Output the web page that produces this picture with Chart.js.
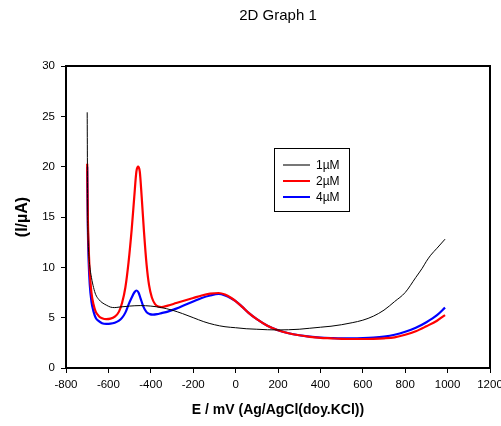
<!DOCTYPE html>
<html>
<head>
<meta charset="utf-8">
<script src="https://cdn.jsdelivr.net/npm/chart.js@4.4.1/dist/chart.umd.min.js"></script>
<style>
html,body{margin:0;padding:0;background:#fff;}
#wrap{width:501px;height:426px;position:relative;}
</style>
</head>
<body>
<div id="wrap"><canvas id="c" width="501" height="426"></canvas></div>
<script>
// ---- data ----
const xTicks = [-800,-600,-400,-200,0,200,400,600,800,1000,1200];
const yTicks = [0,5,10,15,20,25,30];
const seriesNames = ["1\u00b5M","2\u00b5M","4\u00b5M"];

const e1 = [-700,-698,-695,-690,-680,-670,-660,-645,-630,-610,-590,-570,-550,-500,-450,-400,-350,-300,-250,-200,-150,-100,-50,0,50,100,150,200,250,300,350,400,450,500,550,600,650,700,750,800,850,880,900,920,950,988];
const i1 = [25.4,16,12.5,10.6,9.0,8.0,7.3,6.8,6.5,6.25,6.05,6.0,6.05,6.15,6.2,6.15,6.0,5.75,5.4,5.0,4.6,4.3,4.1,4.0,3.9,3.85,3.8,3.78,3.8,3.85,3.95,4.05,4.15,4.3,4.5,4.75,5.15,5.75,6.6,7.5,9.0,9.9,10.6,11.2,11.9,12.8];

const e2 = [-700,-697,-693,-688,-680,-670,-660,-645,-630,-610,-590,-570,-550,-535,-520,-505,-490,-478,-468,-460,-452,-443,-432,-420,-408,-395,-380,-365,-350,-320,-280,-240,-200,-160,-120,-80,-50,-20,0,30,60,100,150,200,250,300,350,400,450,500,550,600,650,700,750,800,850,900,950,988];
const i2 = [20.3,15,12,9.5,7.5,6.3,5.6,5.15,4.95,4.85,4.9,5.1,5.6,6.5,8.0,10.5,13.8,17,19.5,20.0,19.5,17.0,13.5,10.3,8.2,7.0,6.35,6.1,6.05,6.2,6.45,6.7,6.95,7.2,7.38,7.45,7.3,6.95,6.65,6.1,5.5,4.85,4.2,3.75,3.45,3.25,3.1,3.0,2.95,2.9,2.88,2.88,2.9,2.95,3.05,3.3,3.65,4.15,4.7,5.26];

const e4 = [-700,-697,-693,-688,-680,-670,-660,-645,-630,-610,-590,-570,-550,-535,-520,-505,-490,-478,-467,-458,-448,-435,-420,-405,-390,-370,-350,-320,-280,-240,-200,-160,-120,-80,-50,-20,0,30,60,100,150,200,250,300,350,400,450,500,550,600,650,700,750,800,850,900,950,988];
const i4 = [20.0,14,10.5,8.3,6.6,5.6,5.0,4.65,4.45,4.38,4.4,4.5,4.7,5.0,5.5,6.3,7.0,7.5,7.7,7.5,6.9,6.1,5.55,5.35,5.3,5.35,5.45,5.6,5.9,6.25,6.6,6.95,7.2,7.35,7.2,6.9,6.65,6.1,5.5,4.85,4.2,3.75,3.45,3.25,3.12,3.03,2.98,2.95,2.95,2.97,3.02,3.12,3.3,3.6,4.0,4.55,5.25,6.0];

const pts = (xs, ys) => xs.map((x, k) => ({x: x, y: ys[k]}));

const FONT = "'Liberation Sans', Arial, sans-serif";

const framePlugin = {
  id: 'frame',
  afterDatasetsDraw(chart) {
    const {ctx, chartArea: a} = chart;
    ctx.save();
    ctx.strokeStyle = '#000';
    ctx.lineWidth = 2;
    ctx.strokeRect(a.left, a.top, a.right - a.left, a.bottom - a.top);
    ctx.restore();
  }
};

const legendPlugin = {
  id: 'boxLegend',
  afterDraw(chart) {
    const ctx = chart.ctx;
    const bx = 274.5, by = 148.5, bw = 75, bh = 63;
    ctx.save();
    ctx.fillStyle = '#fff';
    ctx.fillRect(bx, by, bw, bh);
    ctx.strokeStyle = '#000';
    ctx.lineWidth = 1;
    ctx.strokeRect(bx, by, bw, bh);
    const rows = [165, 181, 197];
    chart.data.datasets.forEach((ds, k) => {
      ctx.strokeStyle = ds.legendColor;
      ctx.lineWidth = 2;
      ctx.beginPath();
      ctx.moveTo(283, rows[k]);
      ctx.lineTo(310, rows[k]);
      ctx.stroke();
      ctx.fillStyle = '#000';
      ctx.font = "12px " + FONT;
      ctx.textBaseline = 'middle';
      ctx.textAlign = 'left';
      ctx.fillText(ds.label, 316, rows[k] + 1);
    });
    ctx.restore();
  }
};

new Chart(document.getElementById('c'), {
  type: 'line',
  data: {
    datasets: [
      {label: seriesNames[0], data: pts(e1, i1), borderColor: '#000', legendColor: '#777', borderWidth: 1, pointRadius: 0, cubicInterpolationMode: 'monotone'},
      {label: seriesNames[1], data: pts(e2, i2), borderColor: '#ff0000', legendColor: '#ff0000', borderWidth: 2.2, pointRadius: 0, cubicInterpolationMode: 'monotone'},
      {label: seriesNames[2], data: pts(e4, i4), borderColor: '#0000ff', legendColor: '#0000ff', borderWidth: 2.2, pointRadius: 0, cubicInterpolationMode: 'monotone'}
    ]
  },
  options: {
    responsive: false,
    animation: false,
    events: [],
    layout: {padding: {left: 0, right: 11, top: 0, bottom: 0}, autoPadding: false},
    plugins: {
      legend: {display: false},
      tooltip: {enabled: false},
      title: {
        display: true,
        text: '2D Graph 1',
        fullSize: false,
        color: '#000',
        font: {family: FONT, size: 15, weight: 'normal'},
        padding: {top: 7, bottom: 41}
      }
    },
    scales: {
      x: {
        type: 'linear',
        min: xTicks[0], max: xTicks[xTicks.length - 1],
        afterBuildTicks(s) { s.ticks = xTicks.map(v => ({value: v})); },
        afterFit(s) { s.height = 58; s.paddingLeft = 0; s.paddingRight = 0; },
        border: {display: false},
        grid: {drawOnChartArea: false, drawTicks: true, tickLength: 5, color: '#000', tickWidth: 1},
        ticks: {color: '#000', padding: 5, maxRotation: 0, autoSkip: false, font: {family: FONT, size: 11.5}, callback: v => String(v)},
        title: {display: true, text: 'E / mV (Ag/AgCl(doy.KCl))', color: '#000', font: {family: FONT, size: 14, weight: 'bold'}, padding: {top: 0, bottom: 7}}
      },
      y: {
        type: 'linear',
        min: yTicks[0], max: yTicks[yTicks.length - 1],
        afterBuildTicks(s) { s.ticks = yTicks.map(v => ({value: v})); },
        afterFit(s) { s.width = 66; s.paddingTop = 0; s.paddingBottom = 0; },
        border: {display: false},
        grid: {drawOnChartArea: false, drawTicks: true, tickLength: 5, color: '#000', tickWidth: 1},
        ticks: {color: '#000', padding: 6, autoSkip: false, font: {family: FONT, size: 11.5}, callback: v => String(v)},
        title: {display: true, text: '(I/\u00b5A)', color: '#000', font: {family: FONT, size: 16, weight: 'bold'}, padding: {top: 13, bottom: 0}}
      }
    }
  },
  plugins: [framePlugin, legendPlugin]
});
</script>
</body>
</html>
